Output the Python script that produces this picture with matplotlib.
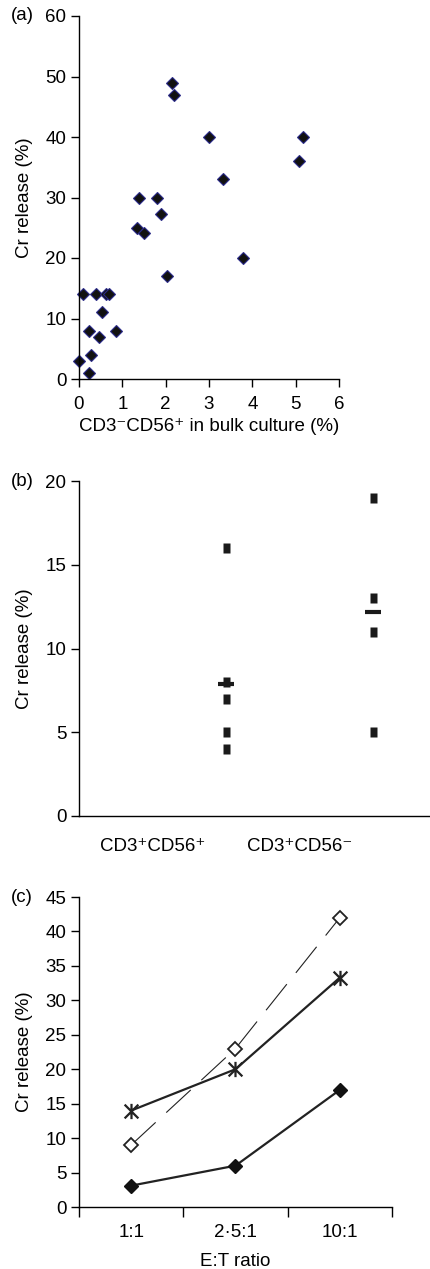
import numpy as np
import matplotlib
matplotlib.use('Agg')
import matplotlib.pyplot as plt
from matplotlib.path import Path

plt.rcParams['font.family'] = ['Liberation Sans', 'DejaVu Sans']
plt.rcParams['font.size'] = 13.5
plt.rcParams['axes.linewidth'] = 1.0

# (a) scatter
a_x = [0.0, 0.22, 0.27, 0.22, 0.1, 0.4, 0.45, 0.52, 0.62, 0.7, 0.85,
       1.39, 1.33, 1.51, 1.81, 1.9, 2.02, 3.78, 3.33, 2.15, 2.19, 3.0,
       5.08, 5.18]
a_y = [3, 1, 4, 8, 14, 14, 7, 11, 14, 14, 8,
       30, 25, 24.2, 30, 27.2, 17, 20, 33, 49, 47, 40,
       36, 40]

# (b) individual values and means
b_labels = ['CD3⁺CD56⁺', 'CD3⁺CD56⁻']
b_group1 = [16, 8, 7, 5, 4]
b_group2 = [19, 13, 11, 5]
b_means = [7.9, 12.2]

# (c) E:T ratio curves
c_labels = ['1:1', '2·5:1', '10:1']
c_filled = [3.1, 6, 17]
c_open = [9, 23, 42]
c_star = [14, 20, 33.3]

fig = plt.figure(figsize=(4.3, 12.69), dpi=100)
W, H = 430, 1269
FS = 13.5

def add_ax(l, r, t, b):
    return fig.add_axes([l / W, 1 - b / H, (r - l) / W, (b - t) / H])

def style(ax):
    for s in ['top', 'right']:
        ax.spines[s].set_visible(False)
    ax.tick_params(direction='out', length=6, width=1, labelsize=FS, pad=3)

# panel a
ax = add_ax(79, 339, 16, 379)
style(ax)
ax.plot(a_x, a_y, 'D', ms=6.3, mfc='#111111', mec='#2b2b8a', mew=0.8, clip_on=False)
ax.set_xlim(0, 6)
ax.set_ylim(0, 60)
ax.set_xticks(range(0, 7))
ax.set_yticks(range(0, 61, 10))
ax.tick_params(axis='x', pad=6)
ax.set_xlabel('CD3⁻CD56⁺ in bulk culture (%)', fontsize=FS, labelpad=4)
ax.set_ylabel('Cr release (%)', fontsize=FS, labelpad=9)
fig.text(22 / W, 1 - 16 / H, '(a)', ha='center', va='center', fontsize=FS)

# panel b
ax = add_ax(79, 430, 481, 816)
style(ax)
rect = Path([(-0.35, -0.5), (0.35, -0.5), (0.35, 0.5), (-0.35, 0.5), (-0.35, -0.5)],
            [Path.MOVETO, Path.LINETO, Path.LINETO, Path.LINETO, Path.CLOSEPOLY])
ax.plot([1] * len(b_group1), b_group1, ls='none', marker=rect, ms=7.2,
        mfc='#1a1a1a', mec='none')
ax.plot([2] * len(b_group2), b_group2, ls='none', marker=rect, ms=7.2,
        mfc='#1a1a1a', mec='none')
ax.plot([1, 2], b_means, ls='none', marker='_', ms=11, mew=3, color='#1a1a1a')
ax.set_xlim(0, 2.39)
ax.set_ylim(0, 20)
ax.set_yticks(range(0, 21, 5))
ax.set_xticks([0.5, 1.5])
ax.set_xticklabels(b_labels)
ax.tick_params(axis='x', length=0, pad=16)
ax.set_ylabel('Cr release (%)', fontsize=FS, labelpad=9)
fig.text(22 / W, 1 - 481 / H, '(b)', ha='center', va='center', fontsize=FS)

# panel c
ax = add_ax(79, 392, 897, 1207)
style(ax)
star = Path([(0, -0.5), (0, 0.5), (-0.45, -0.45), (0.45, 0.45), (-0.45, 0.45), (0.45, -0.45)],
            [Path.MOVETO, Path.LINETO, Path.MOVETO, Path.LINETO, Path.MOVETO, Path.LINETO])
xs = np.arange(len(c_labels))
ax.plot(xs, c_open, color='#222222', lw=0.8, dashes=(30, 13),
        marker='D', ms=7, mfc='white', mec='#222222', mew=1.3)
ax.plot(xs, c_star, color='#222222', lw=1.6,
        marker=star, ms=11, mfc='none', mec='#222222', mew=1.6)
ax.plot(xs, c_filled, color='#222222', lw=1.6,
        marker='D', ms=7, mfc='#111111', mec='#111111')
ax.set_xlim(-0.5, 2.5)
ax.set_ylim(0, 45)
ax.set_yticks(range(0, 46, 5))
ax.set_xticks([-0.5, 0.5, 1.5, 2.5])
ax.set_xticklabels([])
ax.set_xticks(xs, minor=True)
ax.set_xticklabels(c_labels, minor=True)
ax.tick_params(axis='x', which='minor', length=0, pad=12, labelsize=FS)
ax.tick_params(axis='x', which='major', length=7)
ax.set_xlabel('E:T ratio', fontsize=FS, labelpad=9)
ax.set_ylabel('Cr release (%)', fontsize=FS, labelpad=9)
fig.text(22 / W, 1 - 897 / H, '(c)', ha='center', va='center', fontsize=FS)

fig.savefig('out.png', dpi=100)
